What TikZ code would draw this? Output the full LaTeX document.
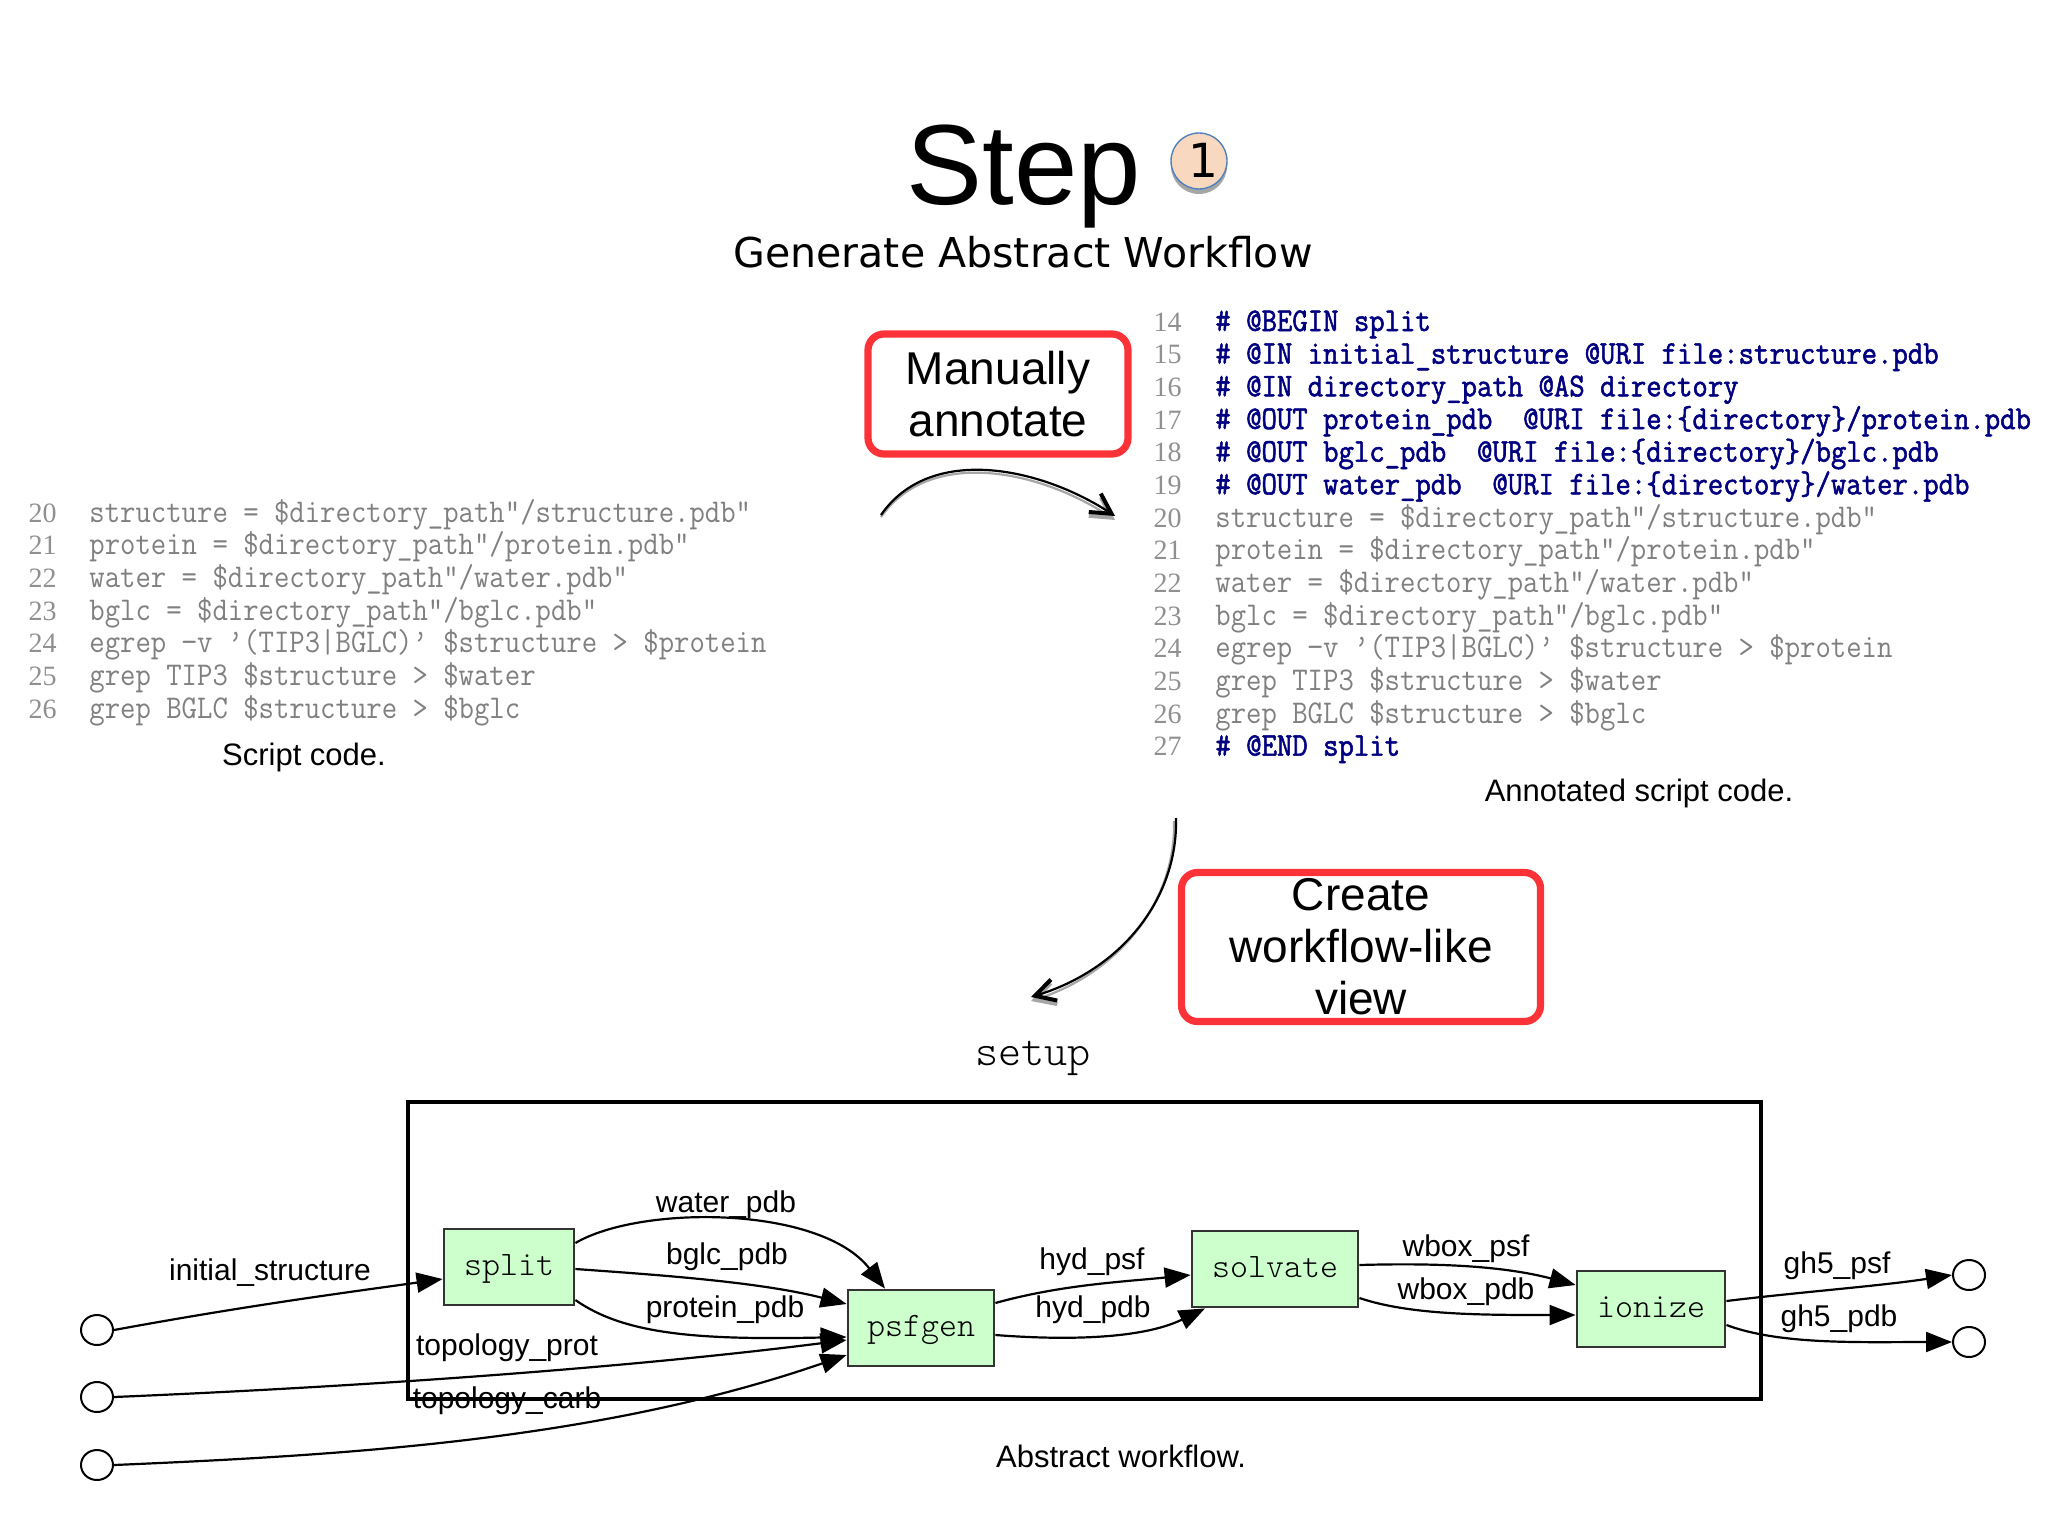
\documentclass[tikz,border=0pt]{standalone}
\usepackage{fontspec}
\setmainfont{Liberation Sans}
\newfontfamily\djv{DejaVu Sans}
\newfontfamily\numfont{Liberation Serif}
\newfontfamily\codefont[FakeStretch=0.90]{Latin Modern Mono}
\newfontfamily\annofont[FakeStretch=0.90,FakeBold=1.6]{Latin Modern Mono}
\newfontfamily\ltfont{Latin Modern Mono Light}
\usetikzlibrary{arrows.meta,shapes.geometric}
\definecolor{codegray}{HTML}{808080}
\definecolor{numgray}{HTML}{909090}
\definecolor{annot}{HTML}{000080}
\definecolor{callred}{HTML}{FB3338}
\definecolor{wfgreen}{HTML}{CCFFCC}
\definecolor{badgefill}{HTML}{F8D8BE}
\definecolor{badgeline}{HTML}{4F81BD}
\tikzset{
  x=.5pt,y=-.5pt,
  code/.style={anchor=base west,inner sep=0,text=codegray,font=\codefont\fontsize{16.6}{19}\selectfont},
  anno/.style={anchor=base west,inner sep=0,text=annot,font=\annofont\fontsize{16.6}{19}\selectfont},
  lnum/.style={anchor=base east,inner sep=0,text=numgray,font=\numfont\fontsize{14}{16}\selectfont},
  caption/.style={anchor=base,inner sep=0,font=\fontsize{15.5}{18}\selectfont},
  callout/.style={draw=callred,line width=3.6pt,rounded corners=8pt,align=center,inner sep=0,font=\fontsize{23}{26}\selectfont},
  wfbox/.style={draw=black!80,fill=wfgreen,line width=1.4pt,inner sep=0,minimum height=38pt,text height=9pt,text depth=1pt,font=\ltfont\fontsize{17.14}{20}\selectfont},
  endpt/.style={draw=black,fill=white,ellipse,line width=1pt,inner sep=0,minimum width=16pt,minimum height=15pt},
  elabel/.style={anchor=base,inner sep=0,font=\fontsize{15}{18}\selectfont},
  flow/.style={draw=black,line width=1.1pt,-{Stealth[length=13pt,width=10pt,inset=0pt]}},
  curvearrow/.style={line width=1.1pt,-{Straight Barb[length=10pt,width=11pt,line width=2pt]}},
  curveshadow/.style={curvearrow,draw=gray!70}
}
\begin{document}
\begin{tikzpicture}
\useasboundingbox (0,0) rectangle (2048,1535);
\fill[white] (0,0) rectangle (2048,1535);

% title
\node[anchor=base,inner sep=0,font=\fontsize{57}{60}\selectfont] (title) at (1024,205) {Step};
\node[anchor=base,inner sep=0,font=\djv\fontsize{20.55}{24}\selectfont] (subtitle) at (1023,268) {Generate Abstract Workflow};
\fill[gray!70] (1199,166) circle[radius=28];
\node[circle,draw=badgeline,fill=badgefill,line width=.7pt,minimum size=28pt,inner sep=0,text height=16.5pt,text depth=0pt,font=\djv\fontsize{23.5}{24}\selectfont] (badge) at (1199,161) {\kern4pt 1};

% left code
\foreach \n/\yy in {20/522,21/554.6,22/587.3,23/620,24/652.6,25/685.3,26/718}{
  \node[lnum] (ln\n) at (57,\yy) {\n};
}
\node[code] (a20) at (89,522) {structure = \$directory\_path"/structure.pdb"};
\node[code] (a21) at (89,554.6) {protein = \$directory\_path"/protein.pdb"};
\node[code] (a22) at (89,587.3) {water = \$directory\_path"/water.pdb"};
\node[code] (a23) at (89,620) {bglc = \$directory\_path"/bglc.pdb"};
\node[code] (a24) at (89,652.6) {egrep −v ’(TIP3|BGLC)’ \$structure > \$protein};
\node[code] (a25) at (89,685.3) {grep TIP3 \$structure > \$water};
\node[code] (a26) at (89,718) {grep BGLC \$structure > \$bglc};
\node[caption] (capa) at (304,765) {Script code.};

% right code
\foreach \n/\yy in {14/331,15/363.7,16/396.3,17/429,18/461.7,19/494.3,20/527,21/559.7,22/592.4,23/625,24/657.7,25/690.4,26/723,27/755.7}{
  \node[lnum] (rn\n) at (1182,\yy) {\n};
}
\node[anno] (b14) at (1215,331) {\# @BEGIN split};
\node[anno] (b15) at (1215,363.7) {\# @IN initial\_structure @URI file:structure.pdb};
\node[anno] (b16) at (1215,396.3) {\# @IN directory\_path @AS directory};
\node[anno] (b17) at (1215,429) {\# @OUT protein\_pdb\ \ @URI file:\{directory\}/protein.pdb};
\node[anno] (b18) at (1215,461.7) {\# @OUT bglc\_pdb\ \ @URI file:\{directory\}/bglc.pdb};
\node[anno] (b19) at (1215,494.3) {\# @OUT water\_pdb\ \ @URI file:\{directory\}/water.pdb};
\node[code] (b20) at (1215,527) {structure = \$directory\_path"/structure.pdb"};
\node[code] (b21) at (1215,559.7) {protein = \$directory\_path"/protein.pdb"};
\node[code] (b22) at (1215,592.4) {water = \$directory\_path"/water.pdb"};
\node[code] (b23) at (1215,625) {bglc = \$directory\_path"/bglc.pdb"};
\node[code] (b24) at (1215,657.7) {egrep −v ’(TIP3|BGLC)’ \$structure > \$protein};
\node[code] (b25) at (1215,690.4) {grep TIP3 \$structure > \$water};
\node[code] (b26) at (1215,723) {grep BGLC \$structure > \$bglc};
\node[anno] (b27) at (1215,755.7) {\# @END split};
\node[caption] (capb) at (1639,801) {Annotated script code.};

% callouts
\node[callout,minimum width=130pt,minimum height=60pt] (manual) at (998,394) {Manually\\annotate};
\node[callout,minimum width=179.5pt,minimum height=74.5pt] (create) at (1361,947) {Create\\workflow-like\\view};

% curved arrows
\coordinate (m1) at (881,515);
\coordinate (m2) at (1115,516);
\coordinate (c1s) at (1176,818);
\coordinate (c2s) at (1031,997);
\draw[curveshadow] ([shift={(0,2)}]m1) .. controls (930,447) and (1040,470) .. ([shift={(0,4)}]m2);
\draw[curvearrow] (m1) .. controls (930,444) and (1040,467) .. (m2);
\draw[curveshadow] ([shift={(-2,3)}]c1s) .. controls (1176,903) and (1118,973) .. ([shift={(0,4)}]c2s);
\draw[curvearrow] (c1s) .. controls (1178,900) and (1120,970) .. (c2s);

% workflow
\node[inner sep=0,anchor=base,font=\ltfont\fontsize{22}{24}\selectfont] (setup) at (1033,1065) {setup};
\draw[line width=2pt] (408,1102) rectangle (1761,1399);
\node[wfbox,minimum width=65pt] (split) at (509,1267) {split};
\node[wfbox,minimum width=73pt] (psfgen) at (921,1328) {psfgen};
\node[wfbox,minimum width=83pt] (solvate) at (1275,1269) {solvate};
\node[wfbox,minimum width=74pt] (ionize) at (1651,1309) {ionize};
\node[endpt] (in1) at (97,1330) {};
\node[endpt] (in2) at (97,1397) {};
\node[endpt] (in3) at (97,1465) {};
\node[endpt] (out1) at (1969,1275) {};
\node[endpt] (out2) at (1969,1342) {};

\draw[flow] (in1.east) .. controls (250,1305) and (350,1292) .. ([yshift=-6pt]split.west);
\draw[flow] ([yshift=12pt]split.east) .. controls (640,1205) and (820,1205) .. ([xshift=-18pt]psfgen.north);
\draw[flow] ([yshift=-1pt]split.east) .. controls (660,1275) and (760,1282) .. ([yshift=12pt]psfgen.west);
\draw[flow] ([yshift=-16.5pt]split.east) .. controls (625,1335) and (700,1340) .. ([yshift=-4.5pt]psfgen.west);
\draw[flow] (in2.east) .. controls (400,1385) and (650,1365) .. ([yshift=-6pt]psfgen.west);
\draw[flow] (in3.east) .. controls (350,1455) and (600,1440) .. ([yshift=-13.5pt]psfgen.west);
\draw[flow] ([yshift=12.5pt]psfgen.east) .. controls (1060,1285) and (1120,1282) .. ([yshift=-3pt]solvate.west);
\draw[flow] ([yshift=-3.5pt]psfgen.east) .. controls (1060,1340) and (1140,1340) .. ([xshift=-35pt]solvate.south);
\draw[flow] ([yshift=2pt]solvate.east) .. controls (1430,1263) and (1500,1265) .. ([yshift=12pt]ionize.west);
\draw[flow] ([yshift=-14.5pt]solvate.east) .. controls (1410,1315) and (1480,1315) .. ([yshift=-3pt]ionize.west);
\draw[flow] ([yshift=4pt]ionize.east) .. controls (1800,1292) and (1880,1286) .. (out1.west);
\draw[flow] ([yshift=-8pt]ionize.east) .. controls (1780,1345) and (1860,1342) .. (out2.west);

\node[elabel] (l1) at (270,1280) {initial\_structure};
\node[elabel] (l2) at (726,1212) {water\_pdb};
\node[elabel] (l3) at (727,1264) {bglc\_pdb};
\node[elabel] (l4) at (725,1317) {protein\_pdb};
\node[elabel] (l5) at (507,1355) {topology\_prot};
\node[elabel] (l6) at (507,1408) {topology\_carb};
\node[elabel] (l7) at (1092,1269) {hyd\_psf};
\node[elabel] (l8) at (1093,1317) {hyd\_pdb};
\node[elabel] (l9) at (1466,1256) {wbox\_psf};
\node[elabel] (l10) at (1466,1299) {wbox\_pdb};
\node[elabel] (l11) at (1837,1273) {gh5\_psf};
\node[elabel] (l12) at (1839,1326) {gh5\_pdb};
\node[caption] (capc) at (1121,1467) {Abstract workflow.};
\end{tikzpicture}
\end{document}
